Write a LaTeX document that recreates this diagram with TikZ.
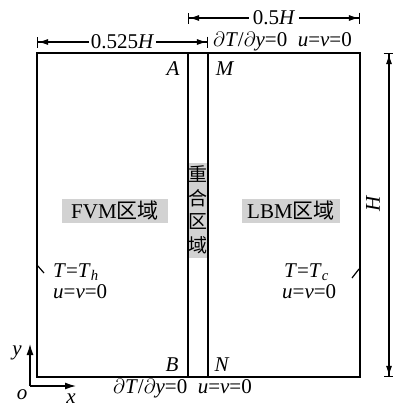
\documentclass[tikz,border=0pt]{standalone}
\usepackage{fontspec}
\setmainfont{Liberation Serif}
\newfontfamily\cjk{Noto Sans CJK SC}
\usetikzlibrary{arrows.meta, positioning}

\tikzset{
  lbl/.style={font=\fontsize{21}{24}\selectfont, inner sep=1pt},
  zone/.style={font=\fontsize{21}{24}\selectfont, fill=gray!35, inner sep=0pt, minimum height=24pt},
  wall/.style={line width=1.6pt},
  dim/.style={line width=1.1pt,
    {Bar[width=11pt]Latex[length=10pt,width=6pt]}-{Latex[length=10pt,width=6pt]Bar[width=11pt]}},
  axis/.style={line width=1.3pt, -{Latex[length=11pt,width=7pt]}},
}

\begin{document}
\begin{tikzpicture}[x=1pt,y=-1pt]
    \useasboundingbox (0,0) rectangle (393,407);
    % corners of the cavity and the overlap strip
    \coordinate (nw) at (37,53);
    \coordinate (se) at (360,377);
    \coordinate (at) at (188,53);
    \coordinate (ab) at (188,377);
    \coordinate (mt) at (208,53);
    \coordinate (mb) at (208,377);
    \fill[gray!35] (188,163) rectangle (208,258);
    \node[font=\fontsize{19}{23.5}\selectfont\cjk, align=center, inner sep=0pt] (ovl) at (198,210) {重\\合\\区\\域};
    \draw[wall] (nw) rectangle (se);
    \draw[wall] (at) -- (ab);
    \draw[wall] (mt) -- (mb);
    % zones
    \node[zone, minimum width=106pt] (fvm) at (115,211) {FVM{\cjk 区域}};
    \node[zone, minimum width=98pt] (lbm) at (291,211) {LBM{\cjk 区域}};
    % corner points
    \node[lbl] (A) at (173,69) {\textit{A}};
    \node[lbl] (M) at (225,69) {\textit{M}};
    \node[lbl] (B) at (172,365) {\textit{B}};
    \node[lbl] (N) at (222,365) {\textit{N}};
    % dimensions
    \coordinate (d1l) at (37,42);
    \coordinate (d1r) at (208,42);
    \coordinate (d2l) at (188,18);
    \coordinate (d2r) at (360,18);
    \coordinate (d3t) at (389,53);
    \coordinate (d3b) at (389,377);
    \draw[dim] (d1l) -- node[lbl, fill=white, inner xsep=2pt] (w1) {0.525\textit{H}} (d1r);
    \draw[dim] (d2l) -- node[lbl, fill=white, inner xsep=4pt] (w2) {0.5\textit{H}} (d2r);
    \draw[dim] (d3t) -- (d3b);
    \node[lbl, rotate=90] (h) at (373,203) {\textit{H}};
    % boundary conditions
    \node[lbl, anchor=west] (top) at (212,42) {$\partial$\textit{T}/$\partial$\textit{y}=0\hspace{0.5em}\textit{u}=\textit{v}=0};
    \node[lbl, anchor=west] (bot) at (112,389) {$\partial$\textit{T}/$\partial$\textit{y}=0\hspace{0.5em}\textit{u}=\textit{v}=0};
    \node[lbl, anchor=west] (th) at (52,272) {\textit{T}=\textit{T}\textsubscript{\textit{h}}};
    \node[lbl, anchor=west] (uvl) at (52,292) {\textit{u}=\textit{v}=0};
    \node[lbl, anchor=west] (tc) at (283,272) {\textit{T}=\textit{T}\textsubscript{\textit{c}}};
    \node[lbl, anchor=west] (uvr) at (281,292) {\textit{u}=\textit{v}=0};
    \draw[line width=1.2pt] (37,265) -- (44,273);
    \draw[line width=1.2pt] (359,269) -- (352,278);
    % axes
    \coordinate (o) at (30,386);
    \coordinate (oy) at (30,344);
    \coordinate (ox) at (76,386);
    \draw[axis] (o) -- (oy);
    \draw[axis] (o) -- (ox);
    \node[lbl, anchor=base] (ylab) at (17,355) {\textit{y}};
    \node[lbl, anchor=base] (olab) at (22,399) {\textit{o}};
    \node[lbl, anchor=base, inner sep=0pt] (xlab) at (71,403) {\textit{x}};
\end{tikzpicture}
\end{document}
